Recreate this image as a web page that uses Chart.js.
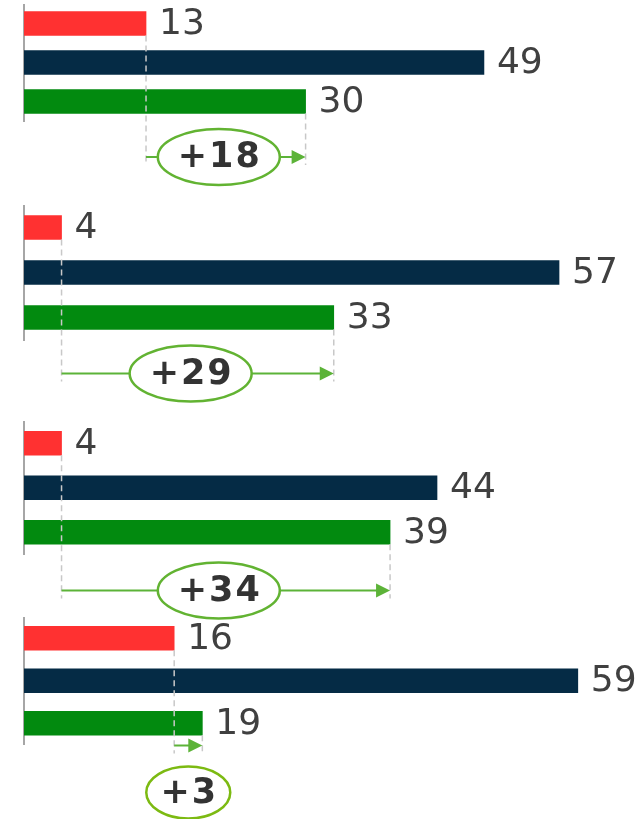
<!DOCTYPE html>
<html>
<head>
<meta charset="utf-8">
<script src="https://cdn.jsdelivr.net/npm/chart.js@4.4.1/dist/chart.umd.min.js"></script>
<style>
  body { margin: 0; background: #fff; width: 641px; height: 819px; overflow: hidden; position: relative; }
  .g { position: absolute; left: 0; width: 641px; }
</style>
</head>
<body>
<div class="g" id="w0"><canvas id="c0"></canvas></div>
<div class="g" id="w1"><canvas id="c1"></canvas></div>
<div class="g" id="w2"><canvas id="c2"></canvas></div>
<div class="g" id="w3"><canvas id="c3"></canvas></div>
<script>
const rows = ['before', 'total', 'after'];
const before = [13, 4, 4, 16];
const total = [49, 57, 44, 59];
const after = [30, 33, 39, 19];
const deltaLabels = ['+18', '+29', '+34', '+3'];

const colors = ['#ff3131', '#052b45', '#028a0f'];
const arrowGreen = '#5cb338';
const textColor = '#404040';

// plot area top, row pitch, arrow distance below the plot, pill distance below the arrow
const groupLayout = [
    {top: 4, pitch: 39, arrow: 36, pill: 0, height: 200},
    {top: 204.5, pitch: 45, arrow: 33.5, pill: 0, height: 210},
    {top: 420.75, pitch: 44.5, arrow: 36, pill: 0, height: 202},
    {top: 616.75, pitch: 42.5, arrow: 1, pill: 47, height: 202},
];

const deltaPlugin = {
    id: 'delta',
    afterDatasetsDraw(chart) {
        const i = chart.options.plugins.delta.group;
        const L = groupLayout[i];
        const ctx = chart.ctx;
        const x = chart.scales.x;
        const meta = chart.getDatasetMeta(0);
        const half = 12;

        // value labels
        ctx.save();
        ctx.font = '36px "DejaVu Sans"';
        ctx.fillStyle = textColor;
        ctx.textAlign = 'left';
        ctx.textBaseline = 'middle';
        meta.data.forEach((bar, j) => {
            ctx.fillText(String(chart.data.datasets[0].data[j]), bar.x + 13, bar.y + 1);
        });

        const x0 = x.getPixelForValue(before[i]);
        const x1 = x.getPixelForValue(after[i]);
        const ay = chart.chartArea.bottom + L.arrow;

        // dashed guides
        ctx.strokeStyle = '#c8c8c8';
        ctx.lineWidth = 1.5;
        ctx.setLineDash([6, 4]);
        ctx.beginPath();
        ctx.moveTo(x0, meta.data[0].y + half);
        ctx.lineTo(x0, ay + 8);
        ctx.moveTo(x1, meta.data[2].y + half);
        ctx.lineTo(x1, ay + 8);
        ctx.stroke();
        ctx.setLineDash([]);

        // arrow
        ctx.strokeStyle = arrowGreen;
        ctx.fillStyle = arrowGreen;
        ctx.lineWidth = 2;
        ctx.beginPath();
        ctx.moveTo(x0, ay);
        ctx.lineTo(x1 - 12, ay);
        ctx.stroke();
        ctx.beginPath();
        ctx.moveTo(x1, ay);
        ctx.lineTo(x1 - 14, ay - 7);
        ctx.lineTo(x1 - 14, ay + 7);
        ctx.closePath();
        ctx.fill();

        // pill with the difference
        const inline = L.pill === 0;
        const cx = inline ? (x0 + x1) / 2 - 7 : (x0 + x1) / 2;
        const cy = ay + L.pill;
        const rx = inline ? 61 : 42;
        const ry = inline ? 28 : 26;
        ctx.beginPath();
        ctx.ellipse(cx, cy, rx, ry, 0, 0, Math.PI * 2);
        ctx.fillStyle = '#fff';
        ctx.fill();
        ctx.strokeStyle = inline ? '#62b332' : '#7cba12';
        ctx.lineWidth = 2.5;
        ctx.stroke();
        ctx.fillStyle = '#333';
        ctx.font = 'bold 35px "DejaVu Sans"';
        ctx.letterSpacing = '2px';
        ctx.textAlign = 'center';
        ctx.textBaseline = 'middle';
        ctx.fillText(deltaLabels[i], cx + 1, cy + 1);
        ctx.restore();
    }
};

groupLayout.forEach((L, i) => {
    const wrap = document.getElementById('w' + i);
    wrap.style.top = L.top + 'px';
    wrap.style.height = L.height + 'px';
    new Chart(document.getElementById('c' + i), {
        type: 'bar',
        data: {
            labels: rows,
            datasets: [{
                data: [before[i], total[i], after[i]],
                backgroundColor: colors,
                barThickness: 24,
            }]
        },
        options: {
            indexAxis: 'y',
            responsive: true,
            maintainAspectRatio: false,
            animation: false,
            layout: {
                padding: {left: 24, right: 5, top: 0, bottom: L.height - 3 * L.pitch}
            },
            scales: {
                x: {display: false, min: 0, max: 65.2},
                y: {
                    grid: {display: false},
                    ticks: {display: false},
                    border: {display: true, color: '#a6a6a6', width: 2},
                    afterFit: s => { s.width = 0; }
                }
            },
            plugins: {
                legend: {display: false},
                tooltip: {enabled: false},
                delta: {group: i}
            }
        },
        plugins: [deltaPlugin]
    });
});
</script>
</body>
</html>
